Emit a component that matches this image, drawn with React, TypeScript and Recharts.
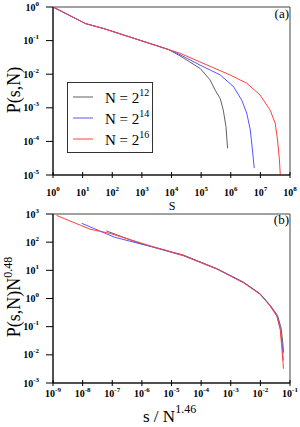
import { LineChart, Line, XAxis, YAxis, ReferenceArea, Legend } from 'recharts'

// panel (a): cluster size s vs P(s,N)
const SIZE_GRAY = [1, 12.6, 50, 4000, 8000, 19500, 93000, 2.0e5, 2.95e5, 4.4e5, 5.6e5, 6.9e5, 7.8e5]
const PROB_GRAY = [1, 0.32, 0.23, 0.066, 0.054, 0.035, 0.0148, 0.0068, 0.0034, 0.0019, 8.5e-4, 2.75e-4, 6.2e-5]

const SIZE_BLUE = [1, 12.6, 50, 4000, 8000, 19500, 93000, 4.4e5, 1.23e6, 2.34e6, 3.47e6, 4.57e6, 5.4e6, 6.2e6]
const PROB_BLUE = [1, 0.32, 0.23, 0.066, 0.054, 0.038, 0.0186, 0.0095, 0.0043, 0.0017, 6.9e-4, 2.2e-4, 5.5e-5, 1.6e-5]

const SIZE_RED = [1, 12.6, 50, 4000, 8000, 19500, 93000, 9.5e5, 3.47e6, 9.8e6, 2.14e7, 3.16e7, 3.8e7, 4.4e7, 4.7e7]
const PROB_RED = [1, 0.32, 0.23, 0.066, 0.054, 0.042, 0.023, 0.0095, 0.0054, 0.0024, 8.5e-4, 3.5e-4, 1.1e-4, 2.8e-5, 1.0e-5]

// panel (b): scaled collapse
const SCALED_X_GRAY = [6.3e-8, 7.9e-7, 1.9e-6, 2.5e-5, 3.4e-4, 2.7e-3, 9.8e-3, 0.0219, 0.038, 0.05, 0.0575, 0.0603]
const SCALED_Y_GRAY = [251, 93, 72, 35, 11.5, 3.8, 1.48, 0.56, 0.25, 0.089, 0.025, 0.012]

const SCALED_X_BLUE = [9.3e-9, 1.17e-7, 1.9e-6, 2.5e-5, 3.4e-4, 2.7e-3, 9.8e-3, 0.0214, 0.0363, 0.0479, 0.0562, 0.0589]
const SCALED_Y_BLUE = [468, 151, 71, 33, 11.2, 3.7, 1.45, 0.55, 0.24, 0.079, 0.0158, 0.0063]

const SCALED_X_RED = [1.32e-9, 1.78e-8, 8.5e-8, 1.9e-6, 2.5e-5, 3.4e-4, 2.7e-3, 9.8e-3, 0.0214, 0.0363, 0.0468, 0.0537, 0.0603]
const SCALED_Y_RED = [891, 288, 204, 74, 34, 11.2, 3.6, 1.41, 0.54, 0.234, 0.078, 0.0148, 0.0032]

const SERIES_NAMES = ['12', '14', '16']
const SERIES_COLORS = ['#606060', '#5555ff', '#ff4040']

const TICKS_A_X = [1, 1e1, 1e2, 1e3, 1e4, 1e5, 1e6, 1e7, 1e8]
const TICKS_A_Y = [1, 1e-1, 1e-2, 1e-3, 1e-4, 1e-5]
const TICKS_B_X = [1e-9, 1e-8, 1e-7, 1e-6, 1e-5, 1e-4, 1e-3, 1e-2, 1e-1]
const TICKS_B_Y = [1e3, 1e2, 1e1, 1, 1e-1, 1e-2, 1e-3]

const SERIF = '"Liberation Serif", "Times New Roman", serif'

const zip = (xs: number[], ys: number[]) => xs.map((x, i) => ({ x, y: ys[i] }))

const TOP = [zip(SIZE_GRAY, PROB_GRAY), zip(SIZE_BLUE, PROB_BLUE), zip(SIZE_RED, PROB_RED)]
const BOTTOM = [
  zip(SCALED_X_GRAY, SCALED_Y_GRAY),
  zip(SCALED_X_BLUE, SCALED_Y_BLUE),
  zip(SCALED_X_RED, SCALED_Y_RED),
]

const exp10 = (v: number) => Math.round(Math.log10(v))

const makeXTick = (offset: number) => (props: any) => {
  const { x, y, payload } = props
  return (
    <g>
      <line x1={x} x2={x} y1={y - 3} y2={y + 3} stroke="#000" />
      <text x={x} y={y + offset} textAnchor="middle" fontFamily={SERIF} fontWeight="bold" fontSize={10} fill="#000">
        10
        <tspan dy={-5} fontSize={7}>{exp10(payload.value)}</tspan>
      </text>
    </g>
  )
}

const YTick = (props: any) => {
  const { x, y, payload } = props
  return (
    <g>
      <line x1={x - 7} x2={x} y1={y} y2={y} stroke="#000" />
      <text x={x - 14} y={y + 3.5} textAnchor="end" fontFamily={SERIF} fontWeight="bold" fontSize={10} fill="#000">
        10
        <tspan dy={-5} fontSize={7}>{exp10(payload.value)}</tspan>
      </text>
    </g>
  )
}

function LegendBox() {
  return (
    <svg width={86} height={71} style={{ display: 'block' }}>
      <rect x={0.5} y={0.5} width={85} height={70} fill="#fff" stroke="#333" />
      {SERIES_NAMES.map((n, i) => (
        <g key={n}>
          <line x1={6} x2={26} y1={15 + i * 21} y2={15 + i * 21} stroke={SERIES_COLORS[i]} />
          <text x={38} y={21 + i * 21} fontFamily={SERIF} fontSize={15} fill="#000">
            N = 2<tspan dy={-7} fontSize={10}>{n}</tspan>
          </text>
        </g>
      ))}
    </svg>
  )
}

export default function App() {
  return (
    <div style={{ position: 'absolute', left: 0, top: 0, width: 300, height: 427, background: '#fff' }}>
      <div style={{ position: 'absolute', left: 0, top: 0 }}>
        <LineChart width={300} height={215} margin={{ top: 7, right: 10, bottom: 0, left: 0 }}>
          <XAxis
            type="number"
            dataKey="x"
            scale="log"
            domain={[1, 1e8]}
            allowDataOverflow
            ticks={TICKS_A_X}
            interval={0}
            height={40}
            tickSize={0}
            tickMargin={0}
            tickLine={false}
            axisLine={{ stroke: '#000' }}
            tick={makeXTick(21)}
          />
          <YAxis
            type="number"
            dataKey="y"
            scale="log"
            domain={[1e-5, 1]}
            allowDataOverflow
            ticks={TICKS_A_Y}
            interval={0}
            width={53}
            tickSize={0}
            tickMargin={0}
            tickLine={false}
            axisLine={{ stroke: '#000' }}
            tick={YTick}
          />
          <ReferenceArea x1={1} x2={1e8} y1={1e-5} y2={1} fill="none" stroke="#444" />
          {TOP.map((d, i) => (
            <Line
              key={i}
              data={d}
              dataKey="y"
              name={SERIES_NAMES[i]}
              type="linear"
              stroke={SERIES_COLORS[i]}
              strokeWidth={1}
              dot={false}
              isAnimationActive={false}
            />
          ))}
          <Legend
            layout="vertical"
            align="center"
            verticalAlign="middle"
            wrapperStyle={{ left: 67, top: 82, width: 86, height: 71 }}
            content={() => <LegendBox />}
          />
        </LineChart>
      </div>
      <div style={{ position: 'absolute', left: 0, top: 207 }}>
        <LineChart width={300} height={206} margin={{ top: 7, right: 10, bottom: 0, left: 0 }}>
          <XAxis
            type="number"
            dataKey="x"
            scale="log"
            domain={[1e-9, 1e-1]}
            allowDataOverflow
            ticks={TICKS_B_X}
            interval={0}
            height={30}
            tickSize={0}
            tickMargin={0}
            tickLine={false}
            axisLine={{ stroke: '#000' }}
            tick={makeXTick(14)}
          />
          <YAxis
            type="number"
            dataKey="y"
            scale="log"
            domain={[1e-3, 1e3]}
            allowDataOverflow
            ticks={TICKS_B_Y}
            interval={0}
            width={53}
            tickSize={0}
            tickMargin={0}
            tickLine={false}
            axisLine={{ stroke: '#000' }}
            tick={YTick}
          />
          <ReferenceArea x1={1e-9} x2={1e-1} y1={1e-3} y2={1e3} fill="none" stroke="#444" />
          {BOTTOM.map((d, i) => (
            <Line
              key={i}
              data={d}
              dataKey="y"
              name={SERIES_NAMES[i]}
              type="linear"
              stroke={SERIES_COLORS[i]}
              strokeWidth={1}
              dot={false}
              isAnimationActive={false}
            />
          ))}
        </LineChart>
      </div>
      <svg width={300} height={427} style={{ position: 'absolute', left: 0, top: 0, pointerEvents: 'none' }}>
        <text x={20} y={90} transform="rotate(-90 20 90)" textAnchor="middle" fontFamily={SERIF} fontSize={18}>
          P(s,N)
        </text>
        <text x={172} y={210} textAnchor="middle" fontFamily={SERIF} fontSize={12}>
          S
        </text>
        <text x={289} y={18} textAnchor="end" fontFamily={SERIF} fontSize={13}>
          (a)
        </text>
        <text x={289} y={224} textAnchor="end" fontFamily={SERIF} fontSize={13}>
          (b)
        </text>
        <text x={20} y={297} transform="rotate(-90 20 297)" textAnchor="middle" fontFamily={SERIF} fontSize={18}>
          P(s,N)N<tspan dy={-8} fontSize={12}>0.48</tspan>
        </text>
        <text x={143} y={422} fontFamily={SERIF} fontSize={17}>
          s / N<tspan dy={-9} fontSize={12}>1.46</tspan>
        </text>
      </svg>
    </div>
  )
}
